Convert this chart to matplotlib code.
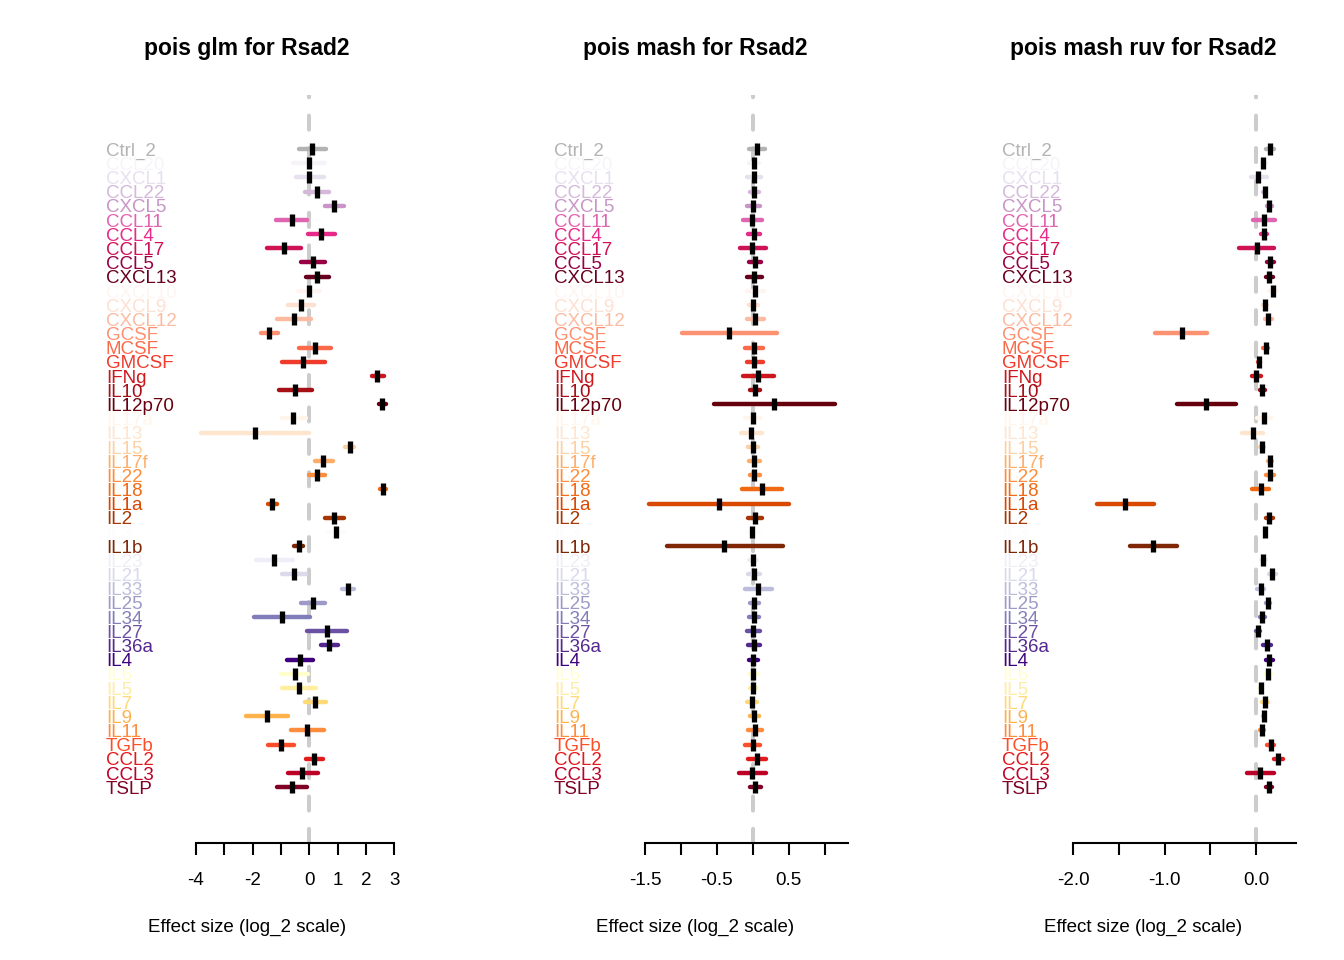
# Forest plot: effetti per citochina in tre modelli
import numpy as np
import matplotlib
matplotlib.use('Agg')
import matplotlib.pyplot as plt
import matplotlib.transforms as mtransforms

plt.rcParams['font.family'] = ['Liberation Sans', 'DejaVu Sans']

labels = ['Ctrl_2', 'CCL20', 'CXCL1', 'CCL22', 'CXCL5', 'CCL11', 'CCL4', 'CCL17', 'CCL5', 'CXCL13',
          'CXCL10', 'CXCL9', 'CXCL12', 'GCSF', 'MCSF', 'GMCSF', 'IFNg', 'IL10', 'IL12p70',
          'IL17a', 'IL13', 'IL15', 'IL17f', 'IL22', 'IL18', 'IL1a', 'IL2', 'IL3', 'IL1b',
          'IL23', 'IL21', 'IL33', 'IL25', 'IL34', 'IL27', 'IL36a', 'IL4',
          'IL6', 'IL5', 'IL7', 'IL9', 'IL11', 'TGFb', 'CCL2', 'CCL3', 'TSLP']

titles = ['pois glm for Rsad2', 'pois mash for Rsad2', 'pois mash ruv for Rsad2']
xlabel = 'Effect size (log_2 scale)'

# pois glm
glm_est = [0.11, -0.01, 0.00, 0.26, 0.88, -0.61, 0.41, -0.90, 0.13, 0.28,
           -0.02, -0.29, -0.53, -1.41, 0.20, -0.21, 2.39, -0.49, 2.57,
           -0.56, -1.92, 1.44, 0.49, 0.27, 2.60, -1.31, 0.88, 0.93, -0.36,
           -1.24, -0.54, 1.36, 0.14, -0.97, 0.64, 0.71, -0.33,
           -0.52, -0.36, 0.21, -1.49, -0.08, -1.01, 0.16, -0.25, -0.61]
glm_lo = [-0.36, -0.58, -0.48, -0.15, 0.54, -1.16, -0.05, -1.48, -0.29, -0.11,
          -0.39, -0.74, -1.13, -1.72, -0.36, -0.95, 2.20, -1.07, 2.45,
          -0.98, -3.81, 1.26, 0.19, -0.01, 2.50, -1.46, 0.57, 0.63, -0.54,
          -1.87, -0.95, 1.14, -0.28, -1.95, -0.10, 0.42, -0.78,
          -1.01, -0.95, -0.15, -2.25, -0.64, -1.46, -0.13, -0.75, -1.13]
glm_hi = [0.59, 0.56, 0.50, 0.71, 1.22, -0.08, 0.91, -0.31, 0.57, 0.71,
          0.36, 0.18, 0.06, -1.09, 0.77, 0.56, 2.62, 0.09, 2.70,
          -0.12, 0.00, 1.59, 0.83, 0.57, 2.72, -1.14, 1.22, 1.24, -0.23,
          -0.58, -0.12, 1.59, 0.57, 0.03, 1.33, 1.00, 0.12,
          -0.03, 0.24, 0.59, -0.74, 0.50, -0.55, 0.47, 0.30, -0.09]

# pois mash
mash_est = [0.056, 0.014, 0.018, 0.022, 0.008, -0.005, 0.018, -0.005, 0.028, 0.018,
            0.037, 0.008, 0.032, -0.326, 0.014, 0.022, 0.078, 0.032, 0.301,
            0.0, -0.024, 0.004, 0.022, 0.022, 0.13, -0.469, 0.028, -0.005, -0.395,
            0.004, 0.018, 0.078, 0.022, 0.018, 0.0, 0.014, 0.008,
            0.004, 0.008, -0.01, 0.022, 0.032, 0.0, 0.056, -0.01, 0.037]
mash_lo = [-0.054, -0.045, -0.077, -0.04, -0.077, -0.133, -0.063, -0.179, -0.054, -0.086,
           -0.077, -0.054, -0.086, -0.992, -0.109, -0.086, -0.133, -0.031, -0.541,
           -0.101, -0.161, -0.063, -0.054, -0.04, -0.147, -1.438, -0.063, -0.086, -1.191,
           -0.045, -0.063, -0.109, -0.04, -0.045, -0.086, -0.068, -0.054,
           -0.054, -0.031, -0.077, -0.04, -0.068, -0.101, -0.063, -0.193, -0.031]
mash_hi = [0.165, 0.086, 0.109, 0.086, 0.104, 0.132, 0.095, 0.179, 0.109, 0.127,
           0.151, 0.072, 0.151, 0.341, 0.141, 0.141, 0.29, 0.095, 1.148,
           0.095, 0.127, 0.072, 0.104, 0.104, 0.41, 0.503, 0.127, 0.086, 0.42,
           0.062, 0.104, 0.267, 0.086, 0.086, 0.095, 0.104, 0.072,
           0.072, 0.048, 0.062, 0.086, 0.132, 0.104, 0.179, 0.179, 0.109]

# pois mash ruv
ruv_est = [0.157, 0.077, 0.026, 0.095, 0.142, 0.088, 0.088, 0.007, 0.153, 0.146,
           0.183, 0.099, 0.135, -0.814, 0.106, 0.033, 0.004, 0.069, -0.544,
           0.084, -0.036, 0.069, 0.157, 0.15, 0.051, -1.431, 0.142, 0.095, -1.125,
           0.08, 0.179, 0.051, 0.128, 0.069, 0.018, 0.117, 0.142,
           0.135, 0.055, 0.099, 0.084, 0.069, 0.161, 0.245, 0.044, 0.139]
ruv_lo = [0.112, 0.068, -0.06, 0.079, 0.115, -0.031, 0.06, -0.188, 0.115, 0.104,
          0.141, 0.079, 0.097, -1.101, 0.079, 0.02, -0.049, 0.042, -0.863,
          0.013, -0.151, 0.046, 0.134, 0.104, -0.042, -1.739, 0.104, 0.074, -1.381,
          0.057, 0.141, 0.013, 0.112, 0.042, -0.005, 0.075, 0.104,
          0.104, 0.042, 0.068, 0.075, 0.042, 0.123, 0.196, -0.104, 0.112]
ruv_hi = [0.202, 0.104, 0.118, 0.111, 0.176, 0.21, 0.118, 0.202, 0.195, 0.191,
          0.232, 0.122, 0.176, -0.535, 0.129, 0.045, 0.056, 0.1, -0.224,
          0.166, 0.075, 0.089, 0.176, 0.195, 0.14, -1.119, 0.184, 0.111, -0.867,
          0.111, 0.221, 0.093, 0.148, 0.1, 0.049, 0.159, 0.184,
          0.166, 0.067, 0.129, 0.093, 0.093, 0.202, 0.301, 0.195, 0.173]

# tick e etichette degli assi
ticks = [[-4, -3, -2, -1, 0, 1, 2, 3],
         [-1.5, -1.0, -0.5, 0.0, 0.5, 1.0],
         [-2.0, -1.5, -1.0, -0.5, 0.0]]
tick_labels = [['-4', '', '-2', '', '0', '1', '2', '3'],
               ['-1.5', '', '-0.5', '', '0.5', ''],
               ['-2.0', '', '-1.0', '', '0.0']]

# palette (stile)
puRd = ['#F7F4F9', '#E7E1EF', '#D4B9DA', '#C994C7', '#DF65B0', '#E7298A', '#CE1256', '#980043', '#67001F']
reds = ['#FFF5F0', '#FEE0D2', '#FCBBA1', '#FC9272', '#FB6A4A', '#EF3B2C', '#CB181D', '#A50F15', '#67000D']
oranges = ['#FFF5EB', '#FEE6CE', '#FDD0A2', '#FDAE6B', '#FD8D3C', '#F16913', '#D94801', '#A63603']
purples = ['#FCFBFD', '#7F2704', '#EFEDF5', '#DADAEB', '#BCBDDC', '#9E9AC8', '#807DBA', '#6A51A3', '#54278F', '#3F007D']
ylorrd = ['#FFFFCC', '#FFEDA0', '#FED976', '#FEB24C', '#FD8D3C', '#FC4E2A', '#E31A1C', '#BD0026', '#800026']
colors = ['#B3B3B3'] + puRd + reds + oranges + purples + ylorrd

panels = [(glm_est, glm_lo, glm_hi), (mash_est, mash_lo, mash_hi), (ruv_est, ruv_lo, ruv_hi)]
xlims = [(-7.60, 3.20), (-2.935, 1.327), (-2.913, 0.438)]
spine_bounds = [(-4, 3), (-1.5, 1.327), (-2.0, 0.438)]

W, H = 1344, 960
fig = plt.figure(figsize=(W / 100, H / 100), dpi=100)
y = np.arange(len(labels))
fs = 13.5

for k in range(3):
    est, lo, hi = panels[k]
    left = 94 + 448 * k
    ax = fig.add_axes([left / W, (H - 843) / H, 306 / W, (843 - 95) / H])
    ax.set_xlim(*xlims[k])
    ax.set_ylim(48.94, -3.81)

    ax.axvline(0, color='#CCCCCC', lw=2.9, linestyle=(0, (3.5, 4.55)),
               dash_capstyle='round', zorder=1)
    lc = ax.hlines(y, lo, hi, colors=colors, lw=3.2, zorder=2)
    lc.set_capstyle('round')
    ax.plot(est, y, linestyle='none', marker='|', color='black',
            markersize=8.6, markeredgewidth=3.8, zorder=3)

    trans = mtransforms.blended_transform_factory(ax.transAxes, ax.transData)
    trans = mtransforms.offset_copy(trans, fig=fig, y=-6.7, units='dots')
    for i, lab in enumerate(labels):
        ax.text(0.039, i, lab, transform=trans, ha='left', va='baseline',
                fontsize=fs, color=colors[i])

    for s in ['top', 'right', 'left']:
        ax.spines[s].set_visible(False)
    ax.spines['bottom'].set_bounds(*spine_bounds[k])
    ax.spines['bottom'].set_linewidth(1.5)
    ax.set_yticks([])
    ax.set_xticks(ticks[k], tick_labels[k])
    ax.tick_params(axis='x', length=8.6, width=1.5, pad=12.5, labelsize=fs)

    ax.text(0.5, (843 - 49) / 748, titles[k], transform=ax.transAxes,
            ha='center', va='center', fontsize=16.5, fontweight='bold')
    ax.text(0.5, (843 - 927) / 748, xlabel, transform=ax.transAxes,
            ha='center', va='center', fontsize=fs)

fig.savefig('out.png', dpi=100)
